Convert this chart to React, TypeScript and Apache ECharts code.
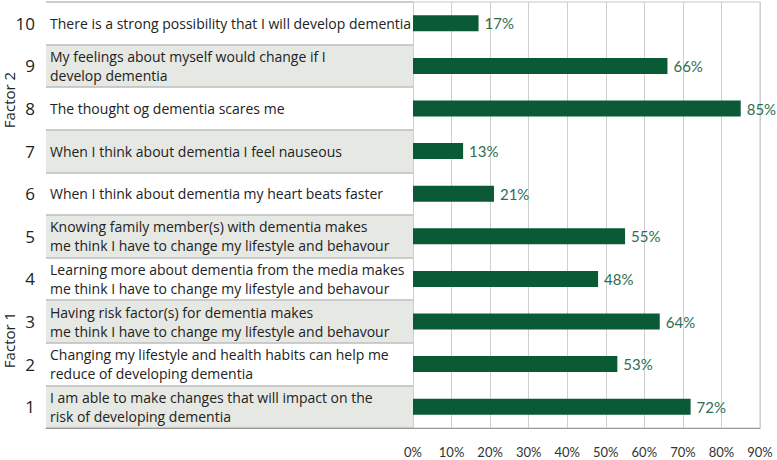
import React, { useEffect, useRef } from "react";
import * as echarts from "echarts";

const ITEM_NUMBERS = ["1", "2", "3", "4", "5", "6", "7", "8", "9", "10"];
const STATEMENTS = [
  "I am able to make changes that will impact on the\nrisk of developing dementia",
  "Changing my lifestyle and health habits can help me\nreduce of developing dementia",
  "Having risk factor(s) for dementia makes\nme think I have to change my lifestyle and behavour",
  "Learning more about dementia from the media makes\nme think I have to change my lifestyle and behavour",
  "Knowing family member(s) with dementia makes\nme think I have to change my lifestyle and behavour",
  "When I think about dementia my heart beats faster",
  "When I think about dementia I feel nauseous",
  "The thought og dementia scares me",
  "My feelings about myself would change if I\ndevelop dementia",
  "There is a strong possibility that I will develop dementia",
];
const PERCENTAGES = [72, 53, 64, 48, 55, 21, 13, 85, 66, 17];
const X_MIN = 0;
const X_MAX = 90;
const X_INTERVAL = 10;
const FACTOR_LABELS = ["Factor 2", "Factor 1"];

const FONT = "Lato, 'Open Sans', sans-serif";
const TEXT_FONT = "'Open Sans', Lato, sans-serif";

export default function App() {
  const ref = useRef<HTMLDivElement>(null);
  useEffect(() => {
    if (!ref.current) return;
    const chart = echarts.init(ref.current, null, { renderer: "svg" });
    chart.setOption({
      animation: false,
      backgroundColor: "#ffffff",
      grid: [
        { left: 413, right: 17, top: 2, bottom: 32, show: true, borderColor: "#c9c9c9", borderWidth: 1, backgroundColor: "transparent" },
        { left: 46, right: 364, top: 2, bottom: 32 },
      ],
      xAxis: [
        {
          gridIndex: 0,
          type: "value",
          min: X_MIN,
          max: X_MAX,
          interval: X_INTERVAL,
          axisLine: { show: true, lineStyle: { color: "#999999" } },
          axisTick: { show: false },
          axisLabel: { formatter: "{value}%", margin: 17, color: "#333333", fontSize: 13, fontFamily: FONT },
          splitLine: { show: true, lineStyle: { color: "#cfcfcf", width: 1 } },
        },
        {
          gridIndex: 1,
          type: "value",
          min: 0,
          max: 1,
          axisLine: { show: true, onZero: false, lineStyle: { color: "#999999" } },
          axisTick: { show: false },
          axisLabel: { show: false },
          splitLine: { show: false },
        },
      ],
      yAxis: [
        { gridIndex: 0, type: "category", data: ITEM_NUMBERS, show: false },
        {
          gridIndex: 1,
          type: "category",
          data: STATEMENTS,
          axisLine: { show: false },
          axisTick: { show: false },
          axisLabel: {
            inside: true,
            interval: 0,
            margin: 4,
            color: "#222222",
            fontSize: 14,
            lineHeight: 19,
            fontFamily: TEXT_FONT,
          },
          splitArea: { show: true, interval: 0, areaStyle: { color: ["#e6e8e3", "#ffffff"] } },
          splitLine: { show: true, interval: 0, lineStyle: { color: "#bdbdbd", width: 1.5 } },
        },
        {
          gridIndex: 1,
          type: "category",
          data: ITEM_NUMBERS,
          position: "left",
          axisLine: { show: false },
          axisTick: { show: false },
          axisLabel: { interval: 0, margin: 11, color: "#222222", fontSize: 17, fontFamily: TEXT_FONT },
          splitLine: { show: false },
        },
      ],
      series: [
        {
          type: "bar",
          xAxisIndex: 0,
          yAxisIndex: 0,
          data: PERCENTAGES,
          barWidth: 16,
          itemStyle: { color: "#0b5a36" },
          label: {
            show: true,
            position: "right",
            distance: 6,
            formatter: "{c}%",
            color: "#2e6e4f",
            fontSize: 15,
            fontFamily: FONT,
          },
        },
      ],
      graphic: [
        {
          type: "text",
          x: 9,
          y: 100,
          rotation: Math.PI / 2,
          style: { text: FACTOR_LABELS[0], fill: "#222222", fontSize: 15, fontFamily: TEXT_FONT, textAlign: "center", textVerticalAlign: "middle" },
        },
        {
          type: "text",
          x: 9,
          y: 340,
          rotation: Math.PI / 2,
          style: { text: FACTOR_LABELS[1], fill: "#222222", fontSize: 15, fontFamily: TEXT_FONT, textAlign: "center", textVerticalAlign: "middle" },
        },
      ],
    });
    return () => chart.dispose();
  }, []);
  return <div ref={ref} style={{ position: "absolute", left: 0, top: 0, width: 777, height: 460 }} />;
}
